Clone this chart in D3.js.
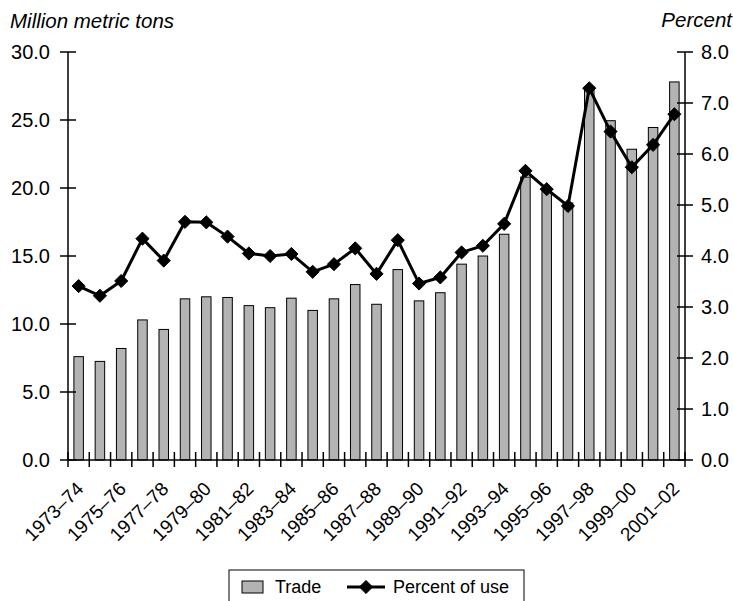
<!DOCTYPE html>
<html>
<head>
<meta charset="utf-8">
<script src="https://cdn.jsdelivr.net/npm/d3@7"></script>
<style>
  body { margin: 0; background: #fff; }
  svg { display: block; font-family: "Liberation Sans", Arial, sans-serif; }
</style>
</head>
<body>
<script>
// marketing years on the x axis
var years = ["1973–74","1974–75","1975–76","1976–77","1977–78","1978–79","1979–80","1980–81",
  "1981–82","1982–83","1983–84","1984–85","1985–86","1986–87","1987–88","1988–89","1989–90",
  "1990–91","1991–92","1992–93","1993–94","1994–95","1995–96","1996–97","1997–98","1998–99",
  "1999–00","2000–01","2001–02"];

// trade, million metric tons (bars, left axis)
var trade = [7.6, 7.25, 8.2, 10.3, 9.6, 11.85, 12.0, 11.95, 11.35, 11.2, 11.9, 11.0, 11.85, 12.9,
  11.45, 14.0, 11.7, 12.3, 14.4, 15.0, 16.6, 20.8, 19.9, 18.9, 27.45, 24.95, 22.85, 24.45, 27.8];

// percent of use (line, right axis)
var percent = [3.41, 3.22, 3.51, 4.34, 3.91, 4.67, 4.66, 4.38, 4.05, 4.0, 4.04, 3.69, 3.84, 4.15,
  3.65, 4.31, 3.46, 3.58, 4.07, 4.2, 4.63, 5.67, 5.31, 4.98, 7.29, 6.44, 5.74, 6.18, 6.78];

var leftTicks = [0, 5, 10, 15, 20, 25, 30];
var rightTicks = [0, 1, 2, 3, 4, 5, 6, 7, 8];

var width = 733, height = 601;
// plot edges (note: "top" is taken by window.top)
var plotL = 68, plotR = 685, plotT = 52, plotB = 460;

var svg = d3.select("body").append("svg")
  .attr("width", width)
  .attr("height", height);

var x = d3.scaleBand().domain(years).range([plotL, plotR]).padding(0);
var yL = d3.scaleLinear().domain([0, 30]).range([plotB, plotT]);
var yR = d3.scaleLinear().domain([0, 8]).range([plotB, plotT]);

var barW = 9.5;

// bars
svg.append("g")
  .selectAll("rect")
  .data(trade)
  .join("rect")
  .attr("x", function(d, i) { return x(years[i]) + x.bandwidth() / 2 - barW / 2; })
  .attr("y", function(d) { return yL(d); })
  .attr("width", barW)
  .attr("height", function(d) { return plotB - yL(d); })
  .attr("fill", "#b3b3b3")
  .attr("stroke", "#000")
  .attr("stroke-width", 1);

// axes
var axes = svg.append("g").attr("stroke", "#000").attr("stroke-width", 1.5);
axes.append("line").attr("x1", plotL).attr("x2", plotL).attr("y1", plotT).attr("y2", plotB);
axes.append("line").attr("x1", plotR).attr("x2", plotR).attr("y1", plotT).attr("y2", plotB);
axes.append("line").attr("x1", plotL).attr("x2", plotR).attr("y1", plotB).attr("y2", plotB);

// ticks cross the axis lines
axes.selectAll(".lt").data(leftTicks).join("line")
  .attr("class", "lt")
  .attr("x1", plotL - 8).attr("x2", plotL + 8)
  .attr("y1", function(d) { return yL(d); }).attr("y2", function(d) { return yL(d); });
axes.selectAll(".rt").data(rightTicks).join("line")
  .attr("class", "rt")
  .attr("x1", plotR - 8).attr("x2", plotR + 8)
  .attr("y1", function(d) { return yR(d); }).attr("y2", function(d) { return yR(d); });

// x ticks at band boundaries
var bounds = years.map(function(d) { return x(d); }).concat([plotR]);
axes.selectAll(".xt").data(bounds).join("line")
  .attr("class", "xt")
  .attr("x1", function(d) { return d; }).attr("x2", function(d) { return d; })
  .attr("y1", plotB - 8).attr("y2", plotB + 7);

svg.append("g").selectAll("text").data(leftTicks).join("text")
  .attr("x", 50).attr("y", function(d) { return yL(d); })
  .attr("dy", "0.36em")
  .attr("text-anchor", "end")
  .attr("font-size", 20)
  .text(function(d) { return d.toFixed(1); });

svg.append("g").selectAll("text").data(rightTicks).join("text")
  .attr("x", 701).attr("y", function(d) { return yR(d); })
  .attr("dy", "0.36em")
  .attr("font-size", 20)
  .text(function(d) { return d.toFixed(1); });

// x labels, every other year
svg.append("g").selectAll("text")
  .data(years.filter(function(d, i) { return i % 2 === 0; }))
  .join("text")
  .attr("text-anchor", "end")
  .attr("font-size", 19)
  .attr("transform", function(d) {
    return "translate(" + (x(d) + x.bandwidth() / 2 + 6) + ",490) rotate(-45)";
  })
  .text(function(d) { return d; });

// axis titles
svg.append("text").attr("x", 10).attr("y", 28)
  .attr("font-size", 20.5).attr("font-style", "italic")
  .text("Million metric tons");
svg.append("text").attr("x", 732).attr("y", 27)
  .attr("font-size", 20.5).attr("font-style", "italic").attr("text-anchor", "end")
  .text("Percent");

// percent line
var line = d3.line()
  .x(function(d, i) { return x(years[i]) + x.bandwidth() / 2; })
  .y(function(d) { return yR(d); });

svg.append("path")
  .datum(percent)
  .attr("d", line)
  .attr("fill", "none")
  .attr("stroke", "#000")
  .attr("stroke-width", 3);

var diamond = d3.symbol().type(d3.symbolDiamond2).size(110);

svg.append("g").selectAll("path").data(percent).join("path")
  .attr("d", diamond)
  .attr("transform", function(d, i) {
    return "translate(" + (x(years[i]) + x.bandwidth() / 2) + "," + yR(d) + ")";
  })
  .attr("fill", "#000")
  .attr("stroke", "#000")
  .attr("stroke-width", 1);

// legend
var lg = svg.append("g");
lg.append("rect").attr("x", 229).attr("y", 570).attr("width", 295).attr("height", 40)
  .attr("fill", "#fff").attr("stroke", "#000").attr("stroke-width", 1);
lg.append("rect").attr("x", 242).attr("y", 581).attr("width", 21).attr("height", 12)
  .attr("fill", "#b3b3b3").attr("stroke", "#000").attr("stroke-width", 1);
lg.append("text").attr("x", 275).attr("y", 593).attr("font-size", 18).text("Trade");
lg.append("line").attr("x1", 347).attr("x2", 385).attr("y1", 587).attr("y2", 587)
  .attr("stroke", "#000").attr("stroke-width", 3);
lg.append("path").attr("d", diamond).attr("transform", "translate(366,587)")
  .attr("fill", "#000").attr("stroke", "#000").attr("stroke-width", 1);
lg.append("text").attr("x", 393).attr("y", 593).attr("font-size", 18).text("Percent of use");
</script>
</body>
</html>
